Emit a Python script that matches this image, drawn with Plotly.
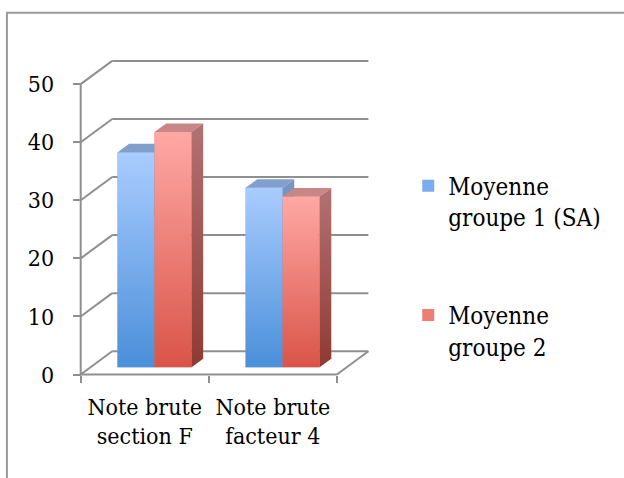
import plotly.graph_objects as go

# ---------------- data ----------------
categories = ["Note brute<br>section F", "Note brute<br>facteur 4"]
series_names = ["Moyenne<br>groupe 1 (SA)", "Moyenne<br>groupe 2"]
group1 = [37.0, 30.9]
group2 = [40.5, 29.4]
y_ticks = [0, 10, 20, 30, 40, 50]

# ---------------- styling ----------------
FONT = "DejaVu Serif Condensed"
GRAY = "#8f8f8f"
front_grad = [("#4a8fd9", "#a9ccff"), ("#d95448", "#ffa8a4")]   # (bottom, top)
side_grad = [("#3f74b4", "#7895c5"), ("#8f3a33", "#b27272")]
top_col = ["#809fcc", "#c98686"]
solid_col = ["#79adec", "#ee7d74"]

W, H = 624, 478
SX = 128.0          # px per category unit
SY = 5.81           # px per value unit
X0PX = 80.7         # pixel of x = -0.5
Y0PX = 375.0        # pixel of y = 0
XMIN, XMAX = -0.56, 1.86
YMIN, YMAX = -0.6, 56.4
plot_left = X0PX - (-0.5 - XMIN) * SX
plot_w = (XMAX - XMIN) * SX
plot_bottom = Y0PX + (0 - YMIN) * SY
plot_h = (YMAX - YMIN) * SY


def pxx(p):
    return (p - plot_left) / plot_w


def pxy(p):
    return (plot_bottom - p) / plot_h


DX = 31.5 / SX      # depth offset (x units) of the 3D box
DY = 23.3 / SY      # depth offset (value units)
F1, F2 = 0.31, 0.68 # bar front / back depth fractions
BW = 0.289          # bar width (category units)

series = [group1, group2]
fig = go.Figure()

# bars (front faces) - also provide legend entries
for s, vals in enumerate(series):
    fig.add_trace(go.Bar(
        x=[0, 1], y=vals, base=[F1 * DY] * len(vals),
        width=BW, offset=(-BW if s == 0 else 0) + F1 * DX,
        marker=dict(color=solid_col[s], line=dict(width=0)),
        name=series_names[s], legendgroup=f"g{s}", hoverinfo="skip",
    ))

# 3D faces drawn in painter order
for c in range(len(categories)):
    for s, vals in enumerate(series):
        v = vals[c]
        L = c - BW if s == 0 else c
        R = L + BW
        b1, b2 = F1 * DY, F2 * DY
        # front
        fig.add_trace(go.Scatter(
            x=[L + F1 * DX, R + F1 * DX, R + F1 * DX, L + F1 * DX],
            y=[b1, b1, b1 + v, b1 + v], fill="toself", mode="lines",
            line=dict(width=0), hoverinfo="skip", showlegend=False,
            fillgradient=dict(type="vertical", start=b1, stop=b1 + v,
                              colorscale=[[0, front_grad[s][0]], [1, front_grad[s][1]]]),
        ))
        # top
        fig.add_trace(go.Scatter(
            x=[L + F1 * DX, R + F1 * DX, R + F2 * DX, L + F2 * DX],
            y=[b1 + v, b1 + v, b2 + v, b2 + v], fill="toself", mode="lines",
            line=dict(width=0), fillcolor=top_col[s], hoverinfo="skip", showlegend=False,
        ))
        # side
        fig.add_trace(go.Scatter(
            x=[R + F1 * DX, R + F2 * DX, R + F2 * DX, R + F1 * DX],
            y=[b1, b2, b2 + v, b1 + v], fill="toself", mode="lines",
            line=dict(width=0), hoverinfo="skip", showlegend=False,
            fillgradient=dict(type="vertical", start=b1, stop=b2 + v,
                              colorscale=[[0, side_grad[s][0]], [1, side_grad[s][1]]]),
        ))

shapes = []
ln = dict(color=GRAY, width=2)
for v in y_ticks:
    shapes.append(dict(type="line", xref="x", yref="y", layer="below",
                       x0=-0.5 + DX, y0=v + DY, x1=1.5 + DX, y1=v + DY, line=ln))
    shapes.append(dict(type="line", xref="x", yref="y", layer="below",
                       x0=-0.5, y0=v, x1=-0.5 + DX, y1=v + DY, line=ln))
shapes.append(dict(type="line", xref="x", yref="y", layer="below",
                   x0=-0.5, y0=0, x1=-0.5, y1=y_ticks[-1], line=ln))
shapes.append(dict(type="line", xref="x", yref="y", layer="below",
                   x0=-0.5, y0=0, x1=1.5, y1=0, line=ln))
shapes.append(dict(type="line", xref="x", yref="y", layer="below",
                   x0=1.5, y0=0, x1=1.5 + DX, y1=DY, line=ln))
# outer chart frame (top and left edges visible)
shapes.append(dict(type="path", xref="paper", yref="paper", layer="above",
                   path=f"M{pxx(7)},{pxy(H + 10)} L{pxx(7)},{pxy(13)} L{pxx(W + 10)},{pxy(13)}",
                   line=dict(color="#9a9a9a", width=2)))

fig.update_layout(
    width=W, height=H,
    margin=dict(l=plot_left, r=W - plot_left - plot_w, t=plot_bottom - plot_h,
                b=H - plot_bottom, pad=0, autoexpand=False),
    paper_bgcolor="white", plot_bgcolor="white",
    barmode="overlay",
    font=dict(family=FONT, size=23, color="black"),
    shapes=shapes,
    xaxis=dict(range=[XMIN, XMAX], anchor="free", position=(0 - YMIN) / (YMAX - YMIN),
               showgrid=False, zeroline=False, showline=False,
               tickmode="array", tickvals=[0, 1], ticktext=categories, ticks="",
               minor=dict(tickmode="array", tickvals=[-0.5, 0.5, 1.5], ticks="outside",
                          ticklen=7, tickwidth=2, tickcolor=GRAY, showgrid=False),
               ticklabelstandoff=16,
               tickfont=dict(family=FONT, size=23, color="black")),
    yaxis=dict(range=[YMIN, YMAX], anchor="free", position=(-0.5 - XMIN) / (XMAX - XMIN),
               showgrid=False, zeroline=False, showline=False,
               tickmode="array", tickvals=y_ticks, ticks="outside", ticklen=8,
               tickwidth=2, tickcolor=GRAY, ticklabelstandoff=14,
               tickfont=dict(family=FONT, size=23, color="black")),
    legend=dict(x=pxx(408), y=pxy(164), xanchor="left", yanchor="top",
                traceorder="grouped", tracegroupgap=64, valign="top",
                bgcolor="rgba(0,0,0,0)", itemwidth=30,
                font=dict(family=FONT, size=24, color="black")),
)

fig.write_html("out.html", config={"displayModeBar": False},
               post_script="document.body.style.margin='0';document.body.style.overflow='hidden';")
